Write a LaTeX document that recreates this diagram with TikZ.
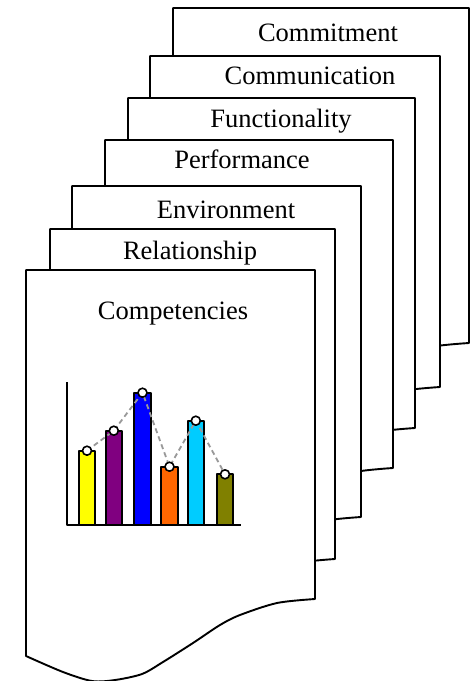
\documentclass[tikz,border=0pt]{standalone}
\usepackage{fontspec}
\setmainfont{Liberation Serif}
\begin{document}
\begin{tikzpicture}[x=1pt,y=-1pt, line join=round,
  docpage/.style={draw=black, fill=white, line width=1.9pt},
  lbl/.style={anchor=base, font=\fontsize{26.5}{30}\selectfont, inner sep=0pt},
  bar/.style={draw=black, line width=1.8pt},
  dot/.style={circle, draw=black, fill=white, line width=1.6pt, minimum size=9pt, inner sep=0pt},
  trend/.style={draw=black!40, line width=1.8pt, dash pattern=on 5pt off 3.5pt}]
\useasboundingbox (0,0) rectangle (472,681);
\newcommand\mydocpage[4]{% x0 y0 w h
 \begin{scope}[shift={(#1,#2)}, xscale=#3/289, yscale=#4/329]
  \filldraw[docpage] (0,0) -- (289,0) -- (289,329) -- plot[smooth] coordinates {(289,329) (251,333) (214,345) (194,355) (167,373) (137,392) (116,404) (89,410) (66,411) (37,402) (0,386)} -- cycle;
 \end{scope}}
\mydocpage{173}{8}{296}{335}
\node[lbl] (t1) at (328,41) {Commitment};
\mydocpage{150}{56}{290}{331}
\node[lbl] (t2) at (310,84) {Communication};
\mydocpage{128}{98}{287}{330}
\node[lbl] (t3) at (281,127) {Functionality};
\mydocpage{105}{140}{288}{328}
\node[lbl] (t4) at (242,168) {Performance};
\mydocpage{72}{186}{289}{331}
\node[lbl] (t5) at (226,218) {Environment};
\mydocpage{50}{229}{285}{330}
\node[lbl] (t6) at (190,259) {Relationship};
\mydocpage{26}{270}{289}{329}
\node[lbl] (t7) at (173,319) {Competencies};
% chart
\draw[line width=1.8pt] (67,382) -- (67,525) -- (241,525);
\draw[bar, fill={rgb,255:red,255;green,255;blue,0}] (79,525) rectangle (95,450.7);
\draw[bar, fill={rgb,255:red,128;green,0;blue,128}] (105.7,525) rectangle (122,430.7);
\draw[bar, fill={rgb,255:red,0;green,0;blue,255}] (134.3,525) rectangle (150.7,392.7);
\draw[bar, fill={rgb,255:red,255;green,102;blue,0}] (160.7,525) rectangle (178.3,466.7);
\draw[bar, fill={rgb,255:red,0;green,204;blue,255}] (187.7,525) rectangle (204,420.7);
\draw[bar, fill={rgb,255:red,128;green,128;blue,0}] (216.7,525) rectangle (233.3,474.3);
\coordinate (c1) at (87,450.7);
\coordinate (c2) at (113.8,430.7);
\coordinate (c3) at (142.5,392.7);
\coordinate (c4) at (169.5,466.7);
\coordinate (c5) at (195.8,420.7);
\coordinate (c6) at (225,474.3);
\draw[trend] (c1) -- (c2) -- (c3) -- (c4) -- (c5) -- (c6);
\node[dot] (d1) at (c1) {};
\node[dot] (d2) at (c2) {};
\node[dot] (d3) at (c3) {};
\node[dot] (d4) at (c4) {};
\node[dot] (d5) at (c5) {};
\node[dot] (d6) at (c6) {};
\end{tikzpicture}
\end{document}
